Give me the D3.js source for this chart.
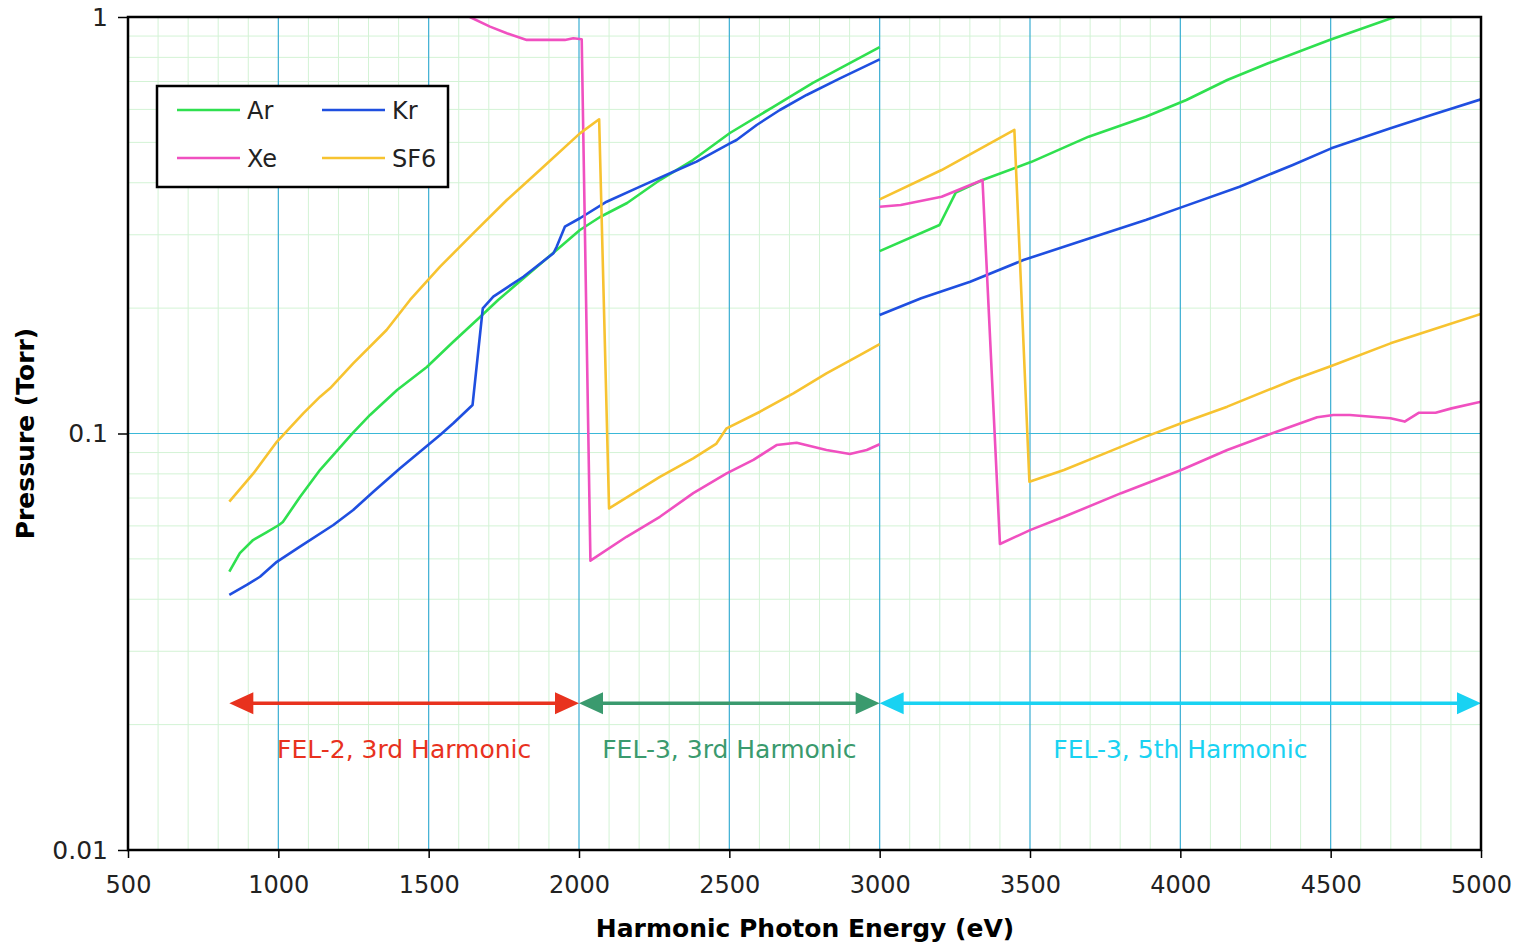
<!DOCTYPE html>
<html>
<head>
<meta charset="utf-8">
<script src="https://cdn.jsdelivr.net/npm/d3@7"></script>
<style>
  body { margin: 0; background: #fff; }
  text { font-family: "DejaVu Sans", Verdana, sans-serif; }
</style>
</head>
<body>
<script>
// photon energy (eV) vs pressure (Torr); null breaks the line at 3000 eV
var ar = [[837,0.0466],[872,0.0516],[916,0.0555],[962,0.058],[1002,0.0603],[1015,0.0613],[1072,0.0704],
  [1139,0.0818],[1248,0.1003],[1305,0.1108],[1395,0.1272],[1494,0.1444],[1581,0.1658],[1671,0.1905],
  [1731,0.2092],[1914,0.2713],[2003,0.308],[2070,0.331],[2160,0.3576],[2269,0.406],[2379,0.4535],
  [2502,0.5266],[2645,0.6079],[2778,0.6945],[3000,0.847], null,
  [3000,0.274],[3199,0.3166],[3253,0.3788],[3342,0.406],[3505,0.449],[3695,0.516],[3885,0.576],
  [4020,0.632],[4156,0.706],[4292,0.7742],[4496,0.881],[4713,1.0]];

var kr = [[837,0.041],[895,0.0433],[939,0.0453],[995,0.0492],[1072,0.0535],[1183,0.0603],[1249,0.0655],
  [1316,0.0725],[1405,0.0825],[1471,0.0904],[1538,0.0992],[1582,0.1058],[1646,0.1171],[1680,0.1998],
  [1715,0.2131],[1815,0.2379],[1915,0.2709],[1926,0.281],[1953,0.3137],[2003,0.3287],[2092,0.3602],
  [2203,0.3914],[2314,0.425],[2391,0.4494],[2502,0.4973],[2524,0.5067],[2591,0.5504],[2668,0.598],
  [2757,0.6498],[2868,0.7122],[3000,0.7913], null,
  [3000,0.1926],[3138,0.2112],[3301,0.2314],[3478,0.2609],[3681,0.2914],[3885,0.3256],[4003,0.3491],
  [4197,0.3914],[4374,0.4413],[4502,0.4838],[4699,0.5404],[4835,0.5816],[5000,0.6343]];

var xe = [[1610,1.03],[1637,1.0],[1704,0.948],[1760,0.914],[1826,0.881],[1904,0.881],[1953,0.881],
  [1981,0.889],[2009,0.884],[2038,0.0495],[2158,0.0565],[2269,0.0631],[2380,0.0719],[2491,0.0802],
  [2580,0.0864],[2657,0.0938],[2724,0.095],[2823,0.0913],[2901,0.0893],[2957,0.0913],[3000,0.0942], null,
  [3000,0.3504],[3070,0.3537],[3206,0.3703],[3342,0.406],[3400,0.0543],[3502,0.0587],[3613,0.0631],
  [3803,0.0719],[4003,0.0817],[4156,0.0913],[4306,0.1001],[4455,0.1094],[4509,0.1108],[4564,0.1108],
  [4699,0.1088],[4746,0.1068],[4794,0.1122],[4849,0.1122],[4902,0.1149],[5000,0.1192]];

var sf6 = [[837,0.0686],[917,0.0802],[995,0.0955],[1083,0.1118],[1139,0.1226],[1172,0.1284],[1249,0.1474],
  [1360,0.1772],[1438,0.2092],[1538,0.2515],[1648,0.3023],[1760,0.3636],[1870,0.4291],[2003,0.5256],
  [2067,0.568],[2100,0.0661],[2269,0.0787],[2380,0.0872],[2456,0.0944],[2491,0.1029],[2602,0.1128],
  [2713,0.1249],[2823,0.1395],[2934,0.1543],[3000,0.164], null,
  [3000,0.3649],[3206,0.4291],[3448,0.5355],[3498,0.0766],[3613,0.0817],[3749,0.0896],[3885,0.0983],
  [4003,0.1058],[4156,0.116],[4374,0.1344],[4502,0.1453],[4699,0.1646],[4835,0.1772],[5000,0.1936]];

var seriesNames = ["Ar", "Kr", "Xe", "SF6"];
var seriesColors = ["#2fe04f", "#1f4fe0", "#f050c0", "#f7c330"];

var xTicks = [500, 1000, 1500, 2000, 2500, 3000, 3500, 4000, 4500, 5000];
var yTicks = [0.01, 0.1, 1];
var yTickLabels = ["0.01", "0.1", "1"];

var bands = [
  {from: 837, to: 2000, at: 0.0225, label: "FEL-2, 3rd Harmonic", color: "#e8321e"},
  {from: 2000, to: 3000, at: 0.0225, label: "FEL-3, 3rd Harmonic", color: "#3a9a6e"},
  {from: 3000, to: 5000, at: 0.0225, label: "FEL-3, 5th Harmonic", color: "#19d2f2"}
];

var svg = d3.select("body").append("svg")
    .attr("width", 1516)
    .attr("height", 943);

var x = d3.scaleLinear().domain([500, 5000]).range([128, 1481]);
var y = d3.scaleLog().domain([0.01, 1]).range([850, 17]);

// grid
var minorX = d3.range(600, 5000, 100).filter(function (d) { return d % 500 !== 0; });
var minorY = [];
[0.01, 0.1].forEach(function (dec) {
  for (var k = 2; k <= 9; k++) minorY.push(dec * k);
});

var grid = svg.append("g");
grid.selectAll(".mx").data(minorX).enter().append("line")
    .attr("x1", function (d) { return x(d); }).attr("x2", function (d) { return x(d); })
    .attr("y1", y(1)).attr("y2", y(0.01))
    .attr("stroke", "#d3f3d5").attr("stroke-width", 1);
grid.selectAll(".my").data(minorY).enter().append("line")
    .attr("x1", x(500)).attr("x2", x(5000))
    .attr("y1", function (d) { return y(d); }).attr("y2", function (d) { return y(d); })
    .attr("stroke", "#d3f3d5").attr("stroke-width", 1);
grid.selectAll(".Mx").data(xTicks.slice(1, -1)).enter().append("line")
    .attr("x1", function (d) { return x(d); }).attr("x2", function (d) { return x(d); })
    .attr("y1", y(1)).attr("y2", y(0.01))
    .attr("stroke", "#3aaed2").attr("stroke-width", 1.2);
grid.append("line")
    .attr("x1", x(500)).attr("x2", x(5000))
    .attr("y1", y(0.1)).attr("y2", y(0.1))
    .attr("stroke", "#3ab8d8").attr("stroke-width", 1.2);

// curves
svg.append("clipPath").attr("id", "plot")
  .append("rect").attr("x", x(500)).attr("y", y(1))
    .attr("width", x(5000) - x(500)).attr("height", y(0.01) - y(1));

var line = d3.line()
    .defined(function (d) { return d !== null; })
    .x(function (d) { return x(d[0]); })
    .y(function (d) { return y(d[1]); });

svg.append("g").attr("clip-path", "url(#plot)")
  .selectAll("path")
  .data([ar, kr, xe, sf6])
  .enter()
    .append("path")
    .attr("d", line)
    .attr("fill", "none")
    .attr("stroke", function (d, i) { return seriesColors[i]; })
    .attr("stroke-width", 2.6)
    .attr("stroke-linejoin", "round");

// harmonic range arrows
var ah = 24, aw = 11;
var bandG = svg.append("g").selectAll("g").data(bands).enter().append("g");
bandG.append("line")
    .attr("x1", function (d) { return x(d.from) + ah - 2; })
    .attr("x2", function (d) { return x(d.to) - ah + 2; })
    .attr("y1", function (d) { return y(d.at); })
    .attr("y2", function (d) { return y(d.at); })
    .attr("stroke", function (d) { return d.color; })
    .attr("stroke-width", 3.5);
bandG.append("path")
    .attr("d", function (d) {
      var x0 = x(d.from), x1 = x(d.to), yy = y(d.at);
      return "M" + x0 + "," + yy + "L" + (x0 + ah) + "," + (yy - aw) + "L" + (x0 + ah) + "," + (yy + aw) + "Z" +
             "M" + x1 + "," + yy + "L" + (x1 - ah) + "," + (yy - aw) + "L" + (x1 - ah) + "," + (yy + aw) + "Z";
    })
    .attr("fill", function (d) { return d.color; });
bandG.append("text")
    .attr("x", function (d) { return (x(d.from) + x(d.to)) / 2; })
    .attr("y", function (d) { return y(d.at) + 55; })
    .attr("text-anchor", "middle")
    .attr("fill", function (d) { return d.color; })
    .style("font-size", "25px")
    .text(function (d) { return d.label; });

// frame
svg.append("rect")
    .attr("x", x(500)).attr("y", y(1))
    .attr("width", x(5000) - x(500)).attr("height", y(0.01) - y(1))
    .attr("fill", "none").attr("stroke", "#000").attr("stroke-width", 2.5);

// axes
var xAxis = d3.axisBottom(x).tickValues(xTicks).tickSize(8).tickPadding(18).tickFormat(d3.format("d"));
var gx = svg.append("g").attr("transform", "translate(0," + y(0.01) + ")").call(xAxis);
gx.select(".domain").remove();
gx.selectAll("line").attr("stroke", "#000").attr("stroke-width", 1.5);
gx.selectAll("text").style("font-size", "24px").attr("fill", "#222")
    .style("font-family", "'DejaVu Sans', Verdana, sans-serif");

var yAxis = d3.axisLeft(y).tickValues(yTicks).tickSize(10).tickPadding(10)
    .tickFormat(function (d, i) { return yTickLabels[i]; });
var gy = svg.append("g").attr("transform", "translate(" + x(500) + ",0)").call(yAxis);
gy.select(".domain").remove();
gy.selectAll("line").attr("stroke", "#000").attr("stroke-width", 1.5);
gy.selectAll("text").style("font-size", "25px").attr("fill", "#222")
    .style("font-family", "'DejaVu Sans', Verdana, sans-serif");

svg.append("text")
    .attr("x", 805).attr("y", 937)
    .attr("text-anchor", "middle")
    .style("font-size", "25px").style("font-weight", "bold")
    .text("Harmonic Photon Energy (eV)");

svg.append("text")
    .attr("transform", "translate(34," + ((y(1) + y(0.01)) / 2) + ") rotate(-90)")
    .attr("text-anchor", "middle")
    .style("font-size", "25px").style("font-weight", "bold")
    .text("Pressure (Torr)");

// legend
var legend = svg.append("g").attr("transform", "translate(157,86)");
legend.append("rect")
    .attr("width", 291).attr("height", 101)
    .attr("fill", "#fff").attr("stroke", "#000").attr("stroke-width", 2.5);
var item = legend.selectAll(".item").data(seriesNames).enter().append("g")
    .attr("transform", function (d, i) {
      return "translate(" + (i % 2 === 0 ? 20 : 165) + "," + (i < 2 ? 24 : 72) + ")";
    });
item.append("line")
    .attr("x1", 0).attr("x2", 63)
    .attr("stroke", function (d, i) { return seriesColors[i]; })
    .attr("stroke-width", 2.6);
item.append("text")
    .attr("x", 70).attr("y", 9)
    .style("font-size", "24px").attr("fill", "#222")
    .text(function (d) { return d; });
</script>
</body>
</html>
